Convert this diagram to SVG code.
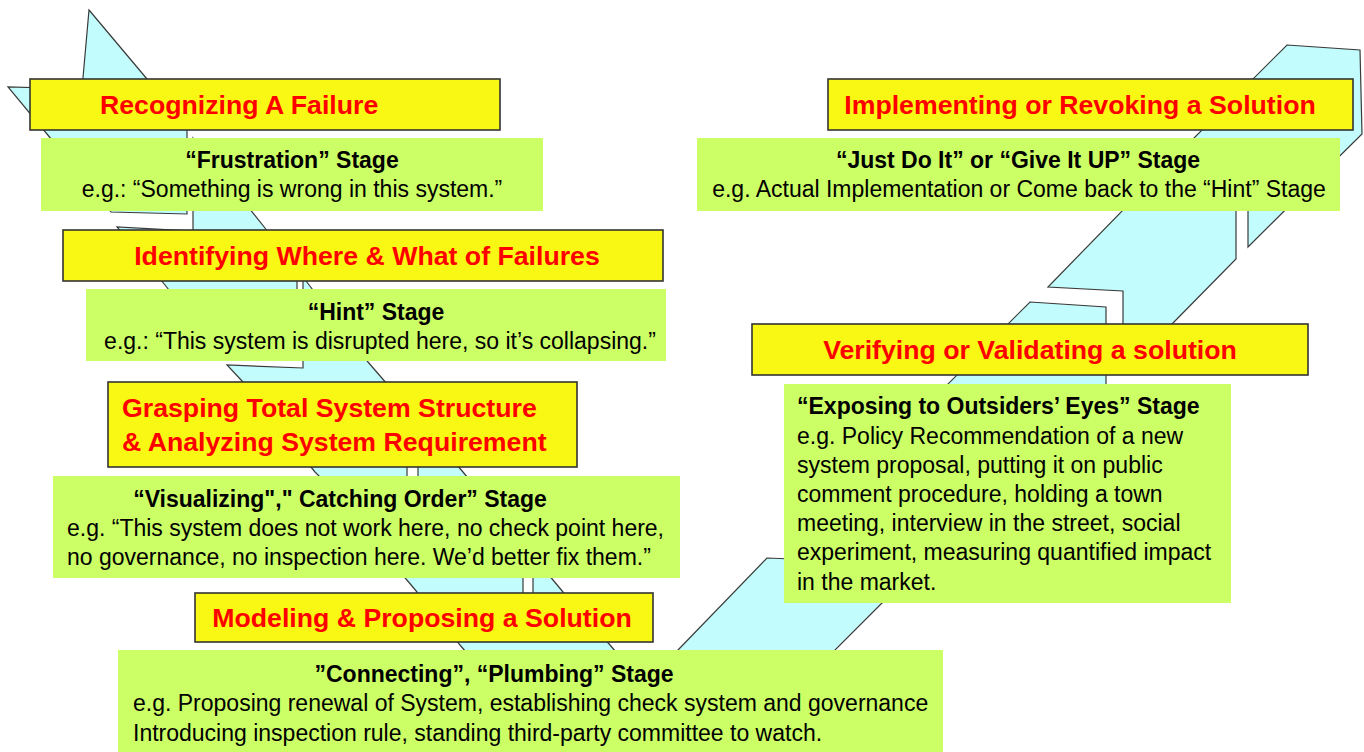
<svg xmlns="http://www.w3.org/2000/svg" width="1364" height="752" viewBox="0 0 1364 752">
<style>
.flow{fill:#c2fcfc;stroke:#3a3a3a;stroke-width:1.2;stroke-linejoin:miter}
.yb{fill:#f8f814;stroke:#333;stroke-width:1.6}
.gb{fill:#ccff66}
.yt{font-family:"Liberation Sans",Arial,sans-serif;font-weight:bold;font-size:26.7px;fill:#ff0000}
.bt{font-family:"Liberation Sans",Arial,sans-serif;font-weight:bold;font-size:23px;fill:#000}
.rt{font-family:"Liberation Sans",Arial,sans-serif;font-size:23px;fill:#000}
.c{text-anchor:middle}
</style>
<rect width="1364" height="752" fill="#ffffff"/>
<g id="connectors">
<polygon class="flow" points="89,10 147,79 187,130 187,214 111,212 47,134 8,87 82,89"/>
<polygon class="flow" points="193,138 265,228 297,270 297,351 216,349 165,285 117,227 193,231"/>
<polygon class="flow" points="303,277 368,362 407,407 407,489 330,487 315,472 242,381 227,365 303,368"/>
<polygon class="flow" points="418,420 463,472 523,544 523,628 445,626 412,586 339,500 418,503"/>
<polygon class="flow" points="533,556 563,592 610,645 665,710 515,710 460,645 453,636 533,639"/>
<polygon class="flow" points="1287,45 1360,50 1362,134 1248,247 1248,162 1173,159"/>
<polygon class="flow" points="1161,171 1236,174 1236,259 1172,324 1123,372 1123,291 1048,287"/>
<polygon class="flow" points="1030,302 1106,307 1106,389 864,590 864,546 789,543"/>
<polygon class="flow" points="767,558 842,561 842,575 910,575 760,725 600,725 678,650"/>
</g>
<g id="n1"><rect class="yb" x="30" y="79" width="470" height="51"/><text class="yt" x="100" y="114">Recognizing A Failure</text></g>
<g id="n2"><rect class="gb" x="41" y="138" width="502" height="73"/><text class="bt c" x="292" y="168">“Frustration” Stage</text><text class="rt c" x="292" y="197">e.g.: “Something is wrong in this system.”</text></g>
<g id="n3"><rect class="yb" x="63" y="230" width="600" height="51"/><text class="yt c" x="367" y="265">Identifying Where &amp; What of Failures</text></g>
<g id="n4"><rect class="gb" x="86" y="289" width="580" height="72"/><text class="bt c" x="376" y="320">“Hint” Stage</text><text class="rt c" x="380" y="349">e.g.: “This system is disrupted here, so it’s collapsing.”</text></g>
<g id="n5"><rect class="yb" x="108" y="382" width="469" height="85"/><text class="yt" x="122" y="417">Grasping Total System Structure</text><text class="yt" x="122" y="451">&amp; Analyzing System Requirement</text></g>
<g id="n6"><rect class="gb" x="53" y="476" width="627" height="102"/><text class="bt c" x="340" y="507">“Visualizing"," Catching Order” Stage</text><text class="rt" x="67" y="536">e.g. “This system does not work here, no check point here,</text><text class="rt" x="67" y="565">no governance, no inspection here. We’d better fix them.”</text></g>
<g id="n7"><rect class="yb" x="195" y="593" width="458" height="49"/><text class="yt c" x="422" y="627">Modeling &amp; Proposing a Solution</text></g>
<g id="n8"><rect class="gb" x="118" y="650" width="825" height="102"/><text class="bt c" x="494" y="682">”Connecting”, “Plumbing” Stage</text><text class="rt" x="133" y="711">e.g. Proposing renewal of System, establishing check system and governance</text><text class="rt" x="133" y="741">Introducing inspection rule, standing third-party committee to watch.</text></g>
<g id="n9"><rect class="yb" x="828" y="79" width="525" height="51"/><text class="yt c" x="1080" y="114">Implementing or Revoking a Solution</text></g>
<g id="n10"><rect class="gb" x="697" y="138" width="643" height="73"/><text class="bt c" x="1018" y="168">“Just Do It” or “Give It UP” Stage</text><text class="rt c" x="1019" y="197">e.g. Actual Implementation or Come back to the “Hint” Stage</text></g>
<g id="n11"><rect class="yb" x="752" y="324" width="556" height="51"/><text class="yt c" x="1030" y="359">Verifying or Validating a solution</text></g>
<g id="n12"><rect class="gb" x="784" y="384" width="447" height="219"/>
<text class="bt" x="797" y="414">“Exposing to Outsiders’ Eyes” Stage</text>
<text class="rt" x="797" y="444">e.g. Policy Recommendation of a new</text>
<text class="rt" x="797" y="473">system proposal, putting it on public</text>
<text class="rt" x="797" y="502">comment procedure, holding a town</text>
<text class="rt" x="797" y="531">meeting, interview in the street, social</text>
<text class="rt" x="797" y="560">experiment, measuring quantified impact</text>
<text class="rt" x="797" y="590">in the market.</text></g>
</svg>
